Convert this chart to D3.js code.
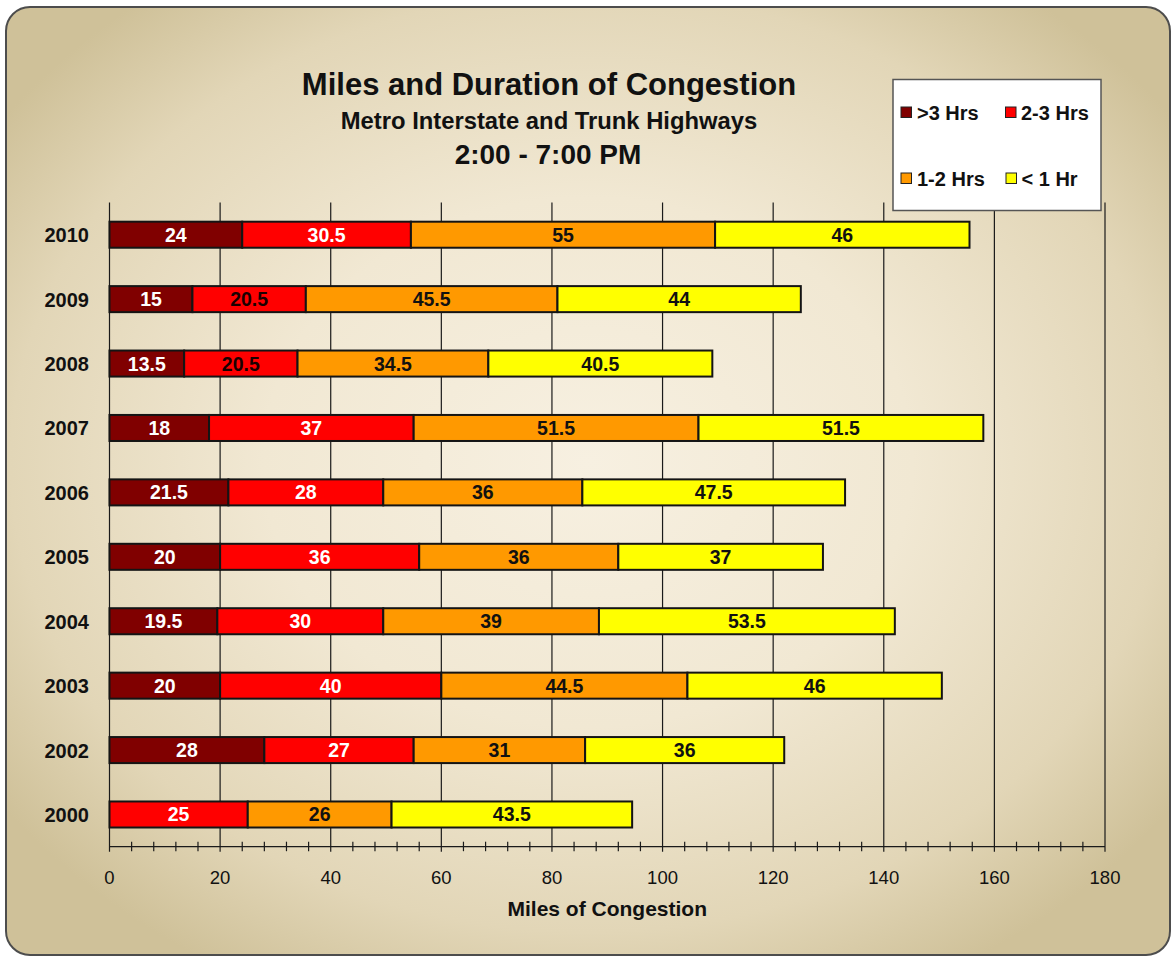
<!DOCTYPE html>
<html>
<head>
<meta charset="utf-8">
<script src="https://cdn.jsdelivr.net/npm/d3@7"></script>
<style>
  html, body { margin: 0; padding: 0; background: #ffffff; }
  svg { display: block; font-family: "Liberation Sans", Arial, sans-serif; }
</style>
</head>
<body>
<svg id="chart" width="1172" height="957"></svg>
<script>
// ---------------- DATA ----------------
const years = ["2010", "2009", "2008", "2007", "2006", "2005", "2004", "2003", "2002", "2000"];
const seriesNames = [">3 Hrs", "2-3 Hrs", "1-2 Hrs", "< 1 Hr"];
const over3 = [24, 15, 13.5, 18, 21.5, 20, 19.5, 20, 28, 0];
const from2to3 = [30.5, 20.5, 20.5, 37, 28, 36, 30, 40, 27, 25];
const from1to2 = [55, 45.5, 34.5, 51.5, 36, 36, 39, 44.5, 31, 26];
const under1 = [46, 44, 40.5, 51.5, 47.5, 37, 53.5, 46, 36, 43.5];
const xTicks = [0, 20, 40, 60, 80, 100, 120, 140, 160, 180];
const titleText = "Miles and Duration of Congestion";
const subtitleText = "Metro Interstate and Trunk Highways";
const timeText = "2:00 - 7:00 PM";
const xAxisTitle = "Miles of Congestion";

// ---------------- STYLE ----------------
const colors = ["#800000", "#ff0000", "#ff9900", "#ffff00"];
const seriesValues = [over3, from2to3, from1to2, under1];

const svg = d3.select("#chart");
const defs = svg.append("defs");
const grad = defs.append("radialGradient").attr("id", "bg")
  .attr("cx", "50%").attr("cy", "48%").attr("r", "62%");
grad.append("stop").attr("offset", "0%").attr("stop-color", "#f7f0e1");
grad.append("stop").attr("offset", "45%").attr("stop-color", "#f1e8d3");
grad.append("stop").attr("offset", "80%").attr("stop-color", "#e2d6b7");
grad.append("stop").attr("offset", "100%").attr("stop-color", "#cfc199");

// panel
svg.append("rect")
  .attr("x", 6).attr("y", 7).attr("width", 1164).attr("height", 948)
  .attr("rx", 24).attr("ry", 24)
  .attr("fill", "url(#bg)")
  .attr("stroke", "#4d4d4d").attr("stroke-width", 2);

// scales
const x = d3.scaleLinear().domain([0, 180]).range([109.5, 1105]);
const y = d3.scaleBand().domain(years).range([202.5, 846.7])
  .paddingInner(0.596).paddingOuter(0.298);

const plotTop = 202.5, plotBottom = 846.7;

// gridlines (major)
const g = svg.append("g");
g.selectAll("line.grid").data(xTicks).join("line")
  .attr("class", "grid")
  .attr("x1", d => x(d)).attr("x2", d => x(d))
  .attr("y1", plotTop).attr("y2", plotBottom + 5)
  .attr("stroke", "#1a1a1a").attr("stroke-width", 1.2);

// x axis line and minor ticks
g.append("line")
  .attr("x1", x(0)).attr("x2", x(180))
  .attr("y1", plotBottom).attr("y2", plotBottom)
  .attr("stroke", "#1a1a1a").attr("stroke-width", 1.2);
const minor = d3.range(0, 181, 4).filter(v => v % 20 !== 0);
g.selectAll("line.minor").data(minor).join("line")
  .attr("class", "minor")
  .attr("x1", d => x(d)).attr("x2", d => x(d))
  .attr("y1", plotBottom - 5).attr("y2", plotBottom + 4.5)
  .attr("stroke", "#1a1a1a").attr("stroke-width", 1.2);

// tick labels
g.selectAll("text.tick").data(xTicks).join("text")
  .attr("class", "tick")
  .attr("x", d => x(d)).attr("y", 884)
  .attr("text-anchor", "middle")
  .attr("font-size", 18.5).attr("fill", "#111")
  .text(d => d);

// axis title
svg.append("text")
  .attr("x", (x(0) + x(180)) / 2).attr("y", 916)
  .attr("text-anchor", "middle")
  .attr("font-size", 21).attr("font-weight", "bold").attr("fill", "#111")
  .text(xAxisTitle);

// stacked data
const stackData = years.map((yr, i) => {
  const o = { year: yr };
  seriesNames.forEach((s, k) => { o[s] = seriesValues[k][i]; });
  return o;
});
const stack = d3.stack().keys(seriesNames)(stackData);

const barsG = svg.append("g");
stack.forEach((layer, k) => {
  const lg = barsG.append("g");
  const segs = layer.filter(d => d[1] - d[0] > 0);
  lg.selectAll("rect").data(segs).join("rect")
    .attr("x", d => x(d[0]))
    .attr("y", d => y(d.data.year))
    .attr("width", d => x(d[1]) - x(d[0]))
    .attr("height", y.bandwidth())
    .attr("fill", colors[k])
    .attr("stroke", "#141414").attr("stroke-width", 2);
  lg.selectAll("text").data(segs).join("text")
    .attr("x", d => (x(d[0]) + x(d[1])) / 2)
    .attr("y", d => y(d.data.year) + y.bandwidth() / 2 + 7)
    .attr("text-anchor", "middle")
    .attr("font-size", 19.5).attr("font-weight", "bold")
    .attr("fill", d => {
      if (k === 0) return "#ffffff";
      if (k === 1) return (d.data.year === "2009" || d.data.year === "2008") ? "#1a0000" : "#ffffff";
      return "#111";
    })
    .text(d => d[1] - d[0]);
});

// year labels
svg.append("g").selectAll("text").data(years).join("text")
  .attr("x", 89)
  .attr("y", d => y(d) + y.bandwidth() / 2 + 7.5)
  .attr("text-anchor", "end")
  .attr("font-size", 20).attr("font-weight", "bold").attr("fill", "#111")
  .text(d => d);

// titles
svg.append("text").attr("x", 549).attr("y", 95)
  .attr("text-anchor", "middle").attr("font-size", 31).attr("font-weight", "bold").attr("fill", "#111")
  .text(titleText);
svg.append("text").attr("x", 549).attr("y", 128.5)
  .attr("text-anchor", "middle").attr("font-size", 23.8).attr("font-weight", "bold").attr("fill", "#111")
  .text(subtitleText);
svg.append("text").attr("x", 548).attr("y", 164)
  .attr("text-anchor", "middle").attr("font-size", 28).attr("font-weight", "bold").attr("fill", "#111")
  .text(timeText);

// legend
const lgd = svg.append("g");
lgd.append("rect").attr("x", 893).attr("y", 79.5).attr("width", 208).attr("height", 131)
  .attr("fill", "#ffffff").attr("stroke", "#555").attr("stroke-width", 1.5);
const legendPos = [
  { sx: 901, sy: 107, tx: 917, ty: 119.5 },
  { sx: 1005.5, sy: 107, tx: 1021, ty: 119.5 },
  { sx: 901, sy: 173, tx: 917, ty: 185.5 },
  { sx: 1006, sy: 173, tx: 1021.5, ty: 185.5 }
];
seriesNames.forEach((s, k) => {
  const p = legendPos[k];
  lgd.append("rect").attr("x", p.sx).attr("y", p.sy).attr("width", 10.5).attr("height", 10.5)
    .attr("fill", colors[k]).attr("stroke", "#222").attr("stroke-width", 1);
  lgd.append("text").attr("x", p.tx).attr("y", p.ty)
    .attr("font-size", 20).attr("font-weight", "bold").attr("fill", "#111")
    .text(s);
});
</script>
</body>
</html>
